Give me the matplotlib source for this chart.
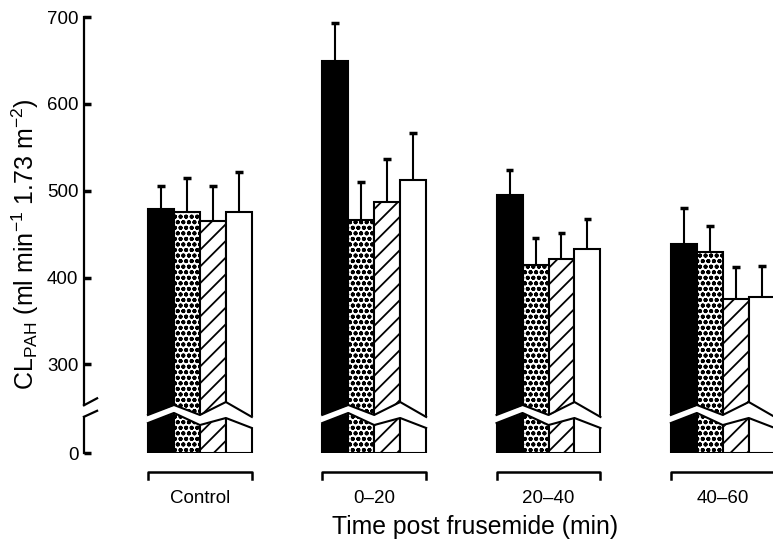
import matplotlib.pyplot as plt
import numpy as np

plt.rcParams['font.family'] = ['Liberation Sans', 'DejaVu Sans']
plt.rcParams['mathtext.default'] = 'regular'
plt.rcParams['hatch.linewidth'] = 1.3

# data (ml/min/1.73 m2)
groups = ['Control', '0\u201320', '20\u201340', '40\u201360']
black = [479, 649, 495, 439]
dotted = [476, 466, 414, 430]
hatched = [465, 487, 421, 375]
white = [475, 512, 433, 378]
black_err = [26, 44, 29, 41]
dotted_err = [39, 44, 31, 29]
hatched_err = [40, 49, 30, 37]
white_err = [46, 54, 35, 35]

y_ticks = [0, 300, 400, 500, 600, 700]

# the axis is broken between 0 and 300: 0 is drawn at this level
zero_pos = 198
w = 0.149  # bar width, one group step = 1

fig = plt.figure(figsize=(7.73, 5.41), dpi=100)
ax = fig.add_axes([0.10867, 0.16266, 0.89133, 0.80591])
ax.set_xlim(-0.367, 3.586)
ax.set_ylim(zero_pos, 700)

series = [
    (black, black_err, 'black', None),
    (dotted, dotted_err, 'white', 'ooo'),
    (hatched, hatched_err, 'white', '//'),
    (white, white_err, 'white', None),
]
gx = np.arange(len(groups))
for k, (vals, err, fc, hatch) in enumerate(series):
    x = gx + k * w
    vals = np.array(vals)
    ax.bar(x, vals - zero_pos, bottom=zero_pos, width=w, align='edge',
           facecolor=fc, edgecolor='black', linewidth=1.5, hatch=hatch, zorder=2)
    xc = x + w / 2
    ax.vlines(xc, vals, vals + np.array(err), color='black', linewidth=1.5, zorder=2)
    ax.hlines(vals + np.array(err), xc - 0.022, xc + 0.022, color='black',
              linewidth=2.5, zorder=2)

# zig-zag break through each group of bars
edge_x = np.arange(5) * w
upper = [241.8, 253.3, 241.8, 256.7, 239.5]
lower = [232.5, 244.1, 230.2, 238.3, 226.8]
for g in gx:
    xs = g + edge_x
    xs_fill = xs.copy()
    xs_fill[0] -= 0.012
    xs_fill[-1] += 0.012
    ax.fill_between(xs_fill, lower, upper, color='white', zorder=3, linewidth=0)
    ax.plot(xs, upper, color='black', linewidth=1.5, zorder=4)
    ax.plot(xs, lower, color='black', linewidth=1.5, zorder=4)

# brackets and group labels below the bars
for g, name in zip(gx, groups):
    x0, x1 = g, g + 4 * w
    ax.plot([x0, x0, x1, x1], [168, 176.5, 176.5, 168], color='black',
            linewidth=1.8, clip_on=False)
    ax.text(g + 2 * w, 140.8, name, ha='center', va='baseline', fontsize=13.5)

# broken y axis drawn by hand
for s in ax.spines.values():
    s.set_visible(False)
trans = ax.get_yaxis_transform()
ax.plot([0, 0], [700, 253], color='black', linewidth=1.6, transform=trans, clip_on=False)
ax.plot([0, 0.019], [253, 261], color='black', linewidth=1.6, transform=trans, clip_on=False)
ax.plot([0, 0], [239.7, zero_pos], color='black', linewidth=1.6, transform=trans, clip_on=False)
ax.plot([0, 0.019], [239.7, 246.6], color='black', linewidth=1.6, transform=trans, clip_on=False)

ax.set_yticks([zero_pos] + y_ticks[1:])
ax.set_yticklabels([str(t) for t in y_ticks])
ax.tick_params(axis='y', direction='in', length=5, width=2.5, pad=4, labelsize=13.5)
ax.set_xticks([])

fig.text(25 / 773, (541 - 244) / 541,
         r'CL$_{PAH}$ (ml min$^{-1}$ 1.73 m$^{-2}$)',
         rotation=90, ha='center', va='center', fontsize=18)
fig.text(474.7 / 773, (541 - 534) / 541, 'Time post frusemide (min)',
         ha='center', va='baseline', fontsize=17.8)

plt.savefig('out.png', dpi=100)
